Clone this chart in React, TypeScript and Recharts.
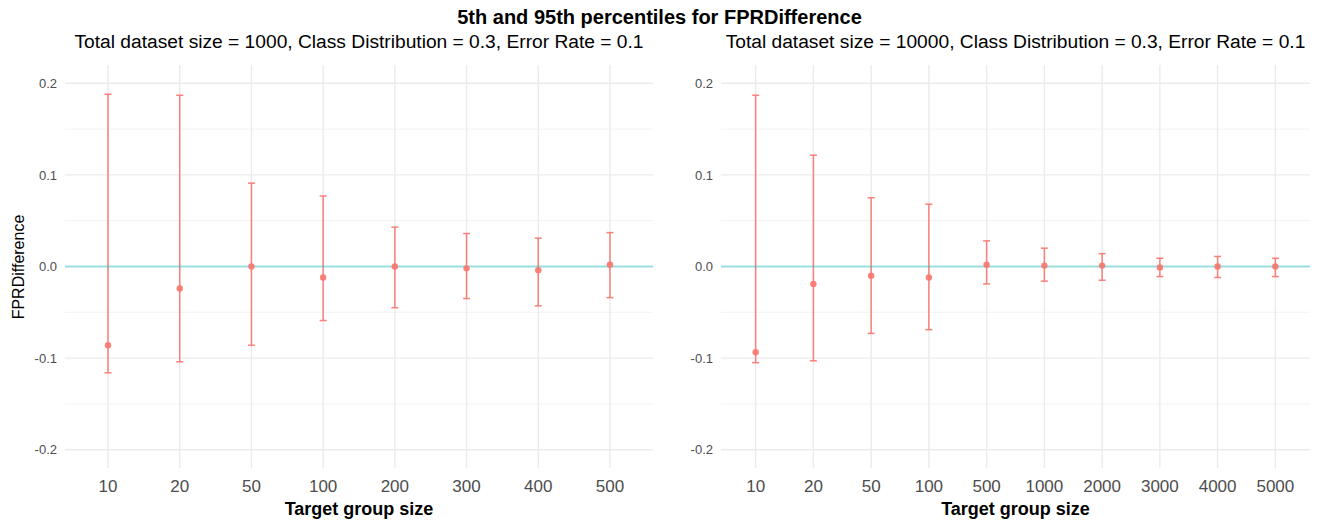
import React from "react";
import {
  ComposedChart, ErrorBar, ReferenceLine, Scatter, XAxis, YAxis,
} from "recharts";

// Left panel: dataset size 1000
const leftSizes = ["10", "20", "50", "100", "200", "300", "400", "500"];
const leftMid = [-0.086, -0.024, 0.0, -0.012, 0.0, -0.002, -0.004, 0.002];
const leftLow = [-0.116, -0.104, -0.086, -0.059, -0.045, -0.035, -0.043, -0.034];
const leftHigh = [0.188, 0.187, 0.091, 0.077, 0.043, 0.036, 0.031, 0.037];

// Right panel: dataset size 10000
const rightSizes = ["10", "20", "50", "100", "500", "1000", "2000", "3000", "4000", "5000"];
const rightMid = [-0.0935, -0.019, -0.010, -0.012, 0.002, 0.001, 0.001, -0.001, 0.0, 0.0];
const rightLow = [-0.105, -0.103, -0.073, -0.069, -0.019, -0.016, -0.015, -0.011, -0.012, -0.011];
const rightHigh = [0.187, 0.1215, 0.075, 0.068, 0.028, 0.020, 0.014, 0.009, 0.011, 0.009];

const yTicks = [-0.2, -0.1, 0, 0.1, 0.2];
const yMinor = [-0.15, -0.05, 0.05, 0.15];

const RED = "#F8766D";
const FONT = "'Liberation Sans', Arial, Helvetica, sans-serif";

type PanelProps = {
  sizes: string[]; mid: number[]; low: number[]; high: number[];
  left: number; width: number; marginLeft: number; marginRight: number;
};

function Panel({ sizes, mid, low, high, left, width, marginLeft, marginRight }: PanelProps) {
  const data = sizes.map((s, i) => ({
    i, size: s, mid: mid[i], err: [mid[i] - low[i], high[i] - mid[i]],
  }));
  const n = sizes.length;
  return (
    <div style={{ position: "absolute", left, top: 0 }}>
      <ComposedChart
        width={width} height={525} data={data}
        margin={{ top: 65, right: marginRight, bottom: 27, left: marginLeft }}
      >
        <XAxis
          dataKey="i" type="number" domain={[-0.6, n - 0.4]}
          ticks={sizes.map((_, i) => i)} interval={0}
          tickFormatter={(v) => sizes[v] ?? ""}
          axisLine={false} tickLine={false} tickMargin={6} height={30}
          tick={{ fill: "#4d4d4d", fontSize: 17, fontFamily: FONT }}
        />
        <YAxis
          type="number" domain={[-0.22, 0.22]} ticks={yTicks} width={40}
          tickFormatter={(v) => Number(v).toFixed(1)}
          axisLine={false} tickLine={false}
          tick={{ fill: "#4d4d4d", fontSize: 13, fontFamily: FONT }}
        />
        {/* panel grid: minor, then major */}
        {yMinor.map((v) => (
          <ReferenceLine key={`mn${v}`} y={v} stroke="#f2f2f2" strokeWidth={1} />
        ))}
        {yTicks.map((v) => (
          <ReferenceLine key={`mj${v}`} y={v} stroke="#ebebeb" strokeWidth={1.4} />
        ))}
        {sizes.map((s, i) => (
          <ReferenceLine key={`vx${s}`} x={i} stroke="#ebebeb" strokeWidth={1.4} />
        ))}
        <Scatter
          dataKey="mid" fill={RED} isAnimationActive={false}
          shape={(p: any) => <circle cx={p.cx} cy={p.cy} r={3.2} fill={RED} fillOpacity={0.9} />}
        >
          <ErrorBar dataKey="err" direction="y" width={3.5} stroke={RED} strokeWidth={1.5} strokeOpacity={0.9} isAnimationActive={false} />
        </Scatter>
        <ReferenceLine y={0} stroke="#00BFC4" strokeOpacity={0.35} strokeWidth={2.2} />
      </ComposedChart>
    </div>
  );
}

export default function App() {
  const sub = "Class Distribution = 0.3, Error Rate = 0.1";
  return (
    <div style={{ position: "absolute", left: 0, top: 0, width: 1319, height: 525, background: "#fff", fontFamily: FONT, overflow: "hidden" }}>
      <Panel sizes={leftSizes} mid={leftMid} low={leftLow} high={leftHigh}
        left={0} width={660} marginLeft={25} marginRight={7} />
      <Panel sizes={rightSizes} mid={rightMid} low={rightLow} high={rightHigh}
        left={660} width={659} marginLeft={21} marginRight={9} />

      <div style={{ position: "absolute", left: 0, width: 1319, top: 7, textAlign: "center", fontSize: 20, fontWeight: "bold", lineHeight: 1, color: "#000" }}>
        5th and 95th percentiles for FPRDifference
      </div>
      <div style={{ position: "absolute", left: 65, width: 588, top: 32, textAlign: "center", fontSize: 19.2, lineHeight: 1, color: "#000", whiteSpace: "nowrap" }}>
        {`Total dataset size = 1000, ${sub}`}
      </div>
      <div style={{ position: "absolute", left: 721, width: 589, top: 32, textAlign: "center", fontSize: 19.2, lineHeight: 1, color: "#000", whiteSpace: "nowrap" }}>
        {`Total dataset size = 10000, ${sub}`}
      </div>
      <div style={{ position: "absolute", left: 65, width: 588, top: 500, textAlign: "center", fontSize: 18, fontWeight: "bold", lineHeight: 1, color: "#000" }}>
        Target group size
      </div>
      <div style={{ position: "absolute", left: 721, width: 589, top: 500, textAlign: "center", fontSize: 18, fontWeight: "bold", lineHeight: 1, color: "#000" }}>
        Target group size
      </div>
      <div style={{ position: "absolute", left: 19, top: 267, transform: "translate(-50%, -50%) rotate(-90deg)", fontSize: 16, lineHeight: 1, color: "#000", whiteSpace: "nowrap" }}>
        FPRDifference
      </div>
    </div>
  );
}
